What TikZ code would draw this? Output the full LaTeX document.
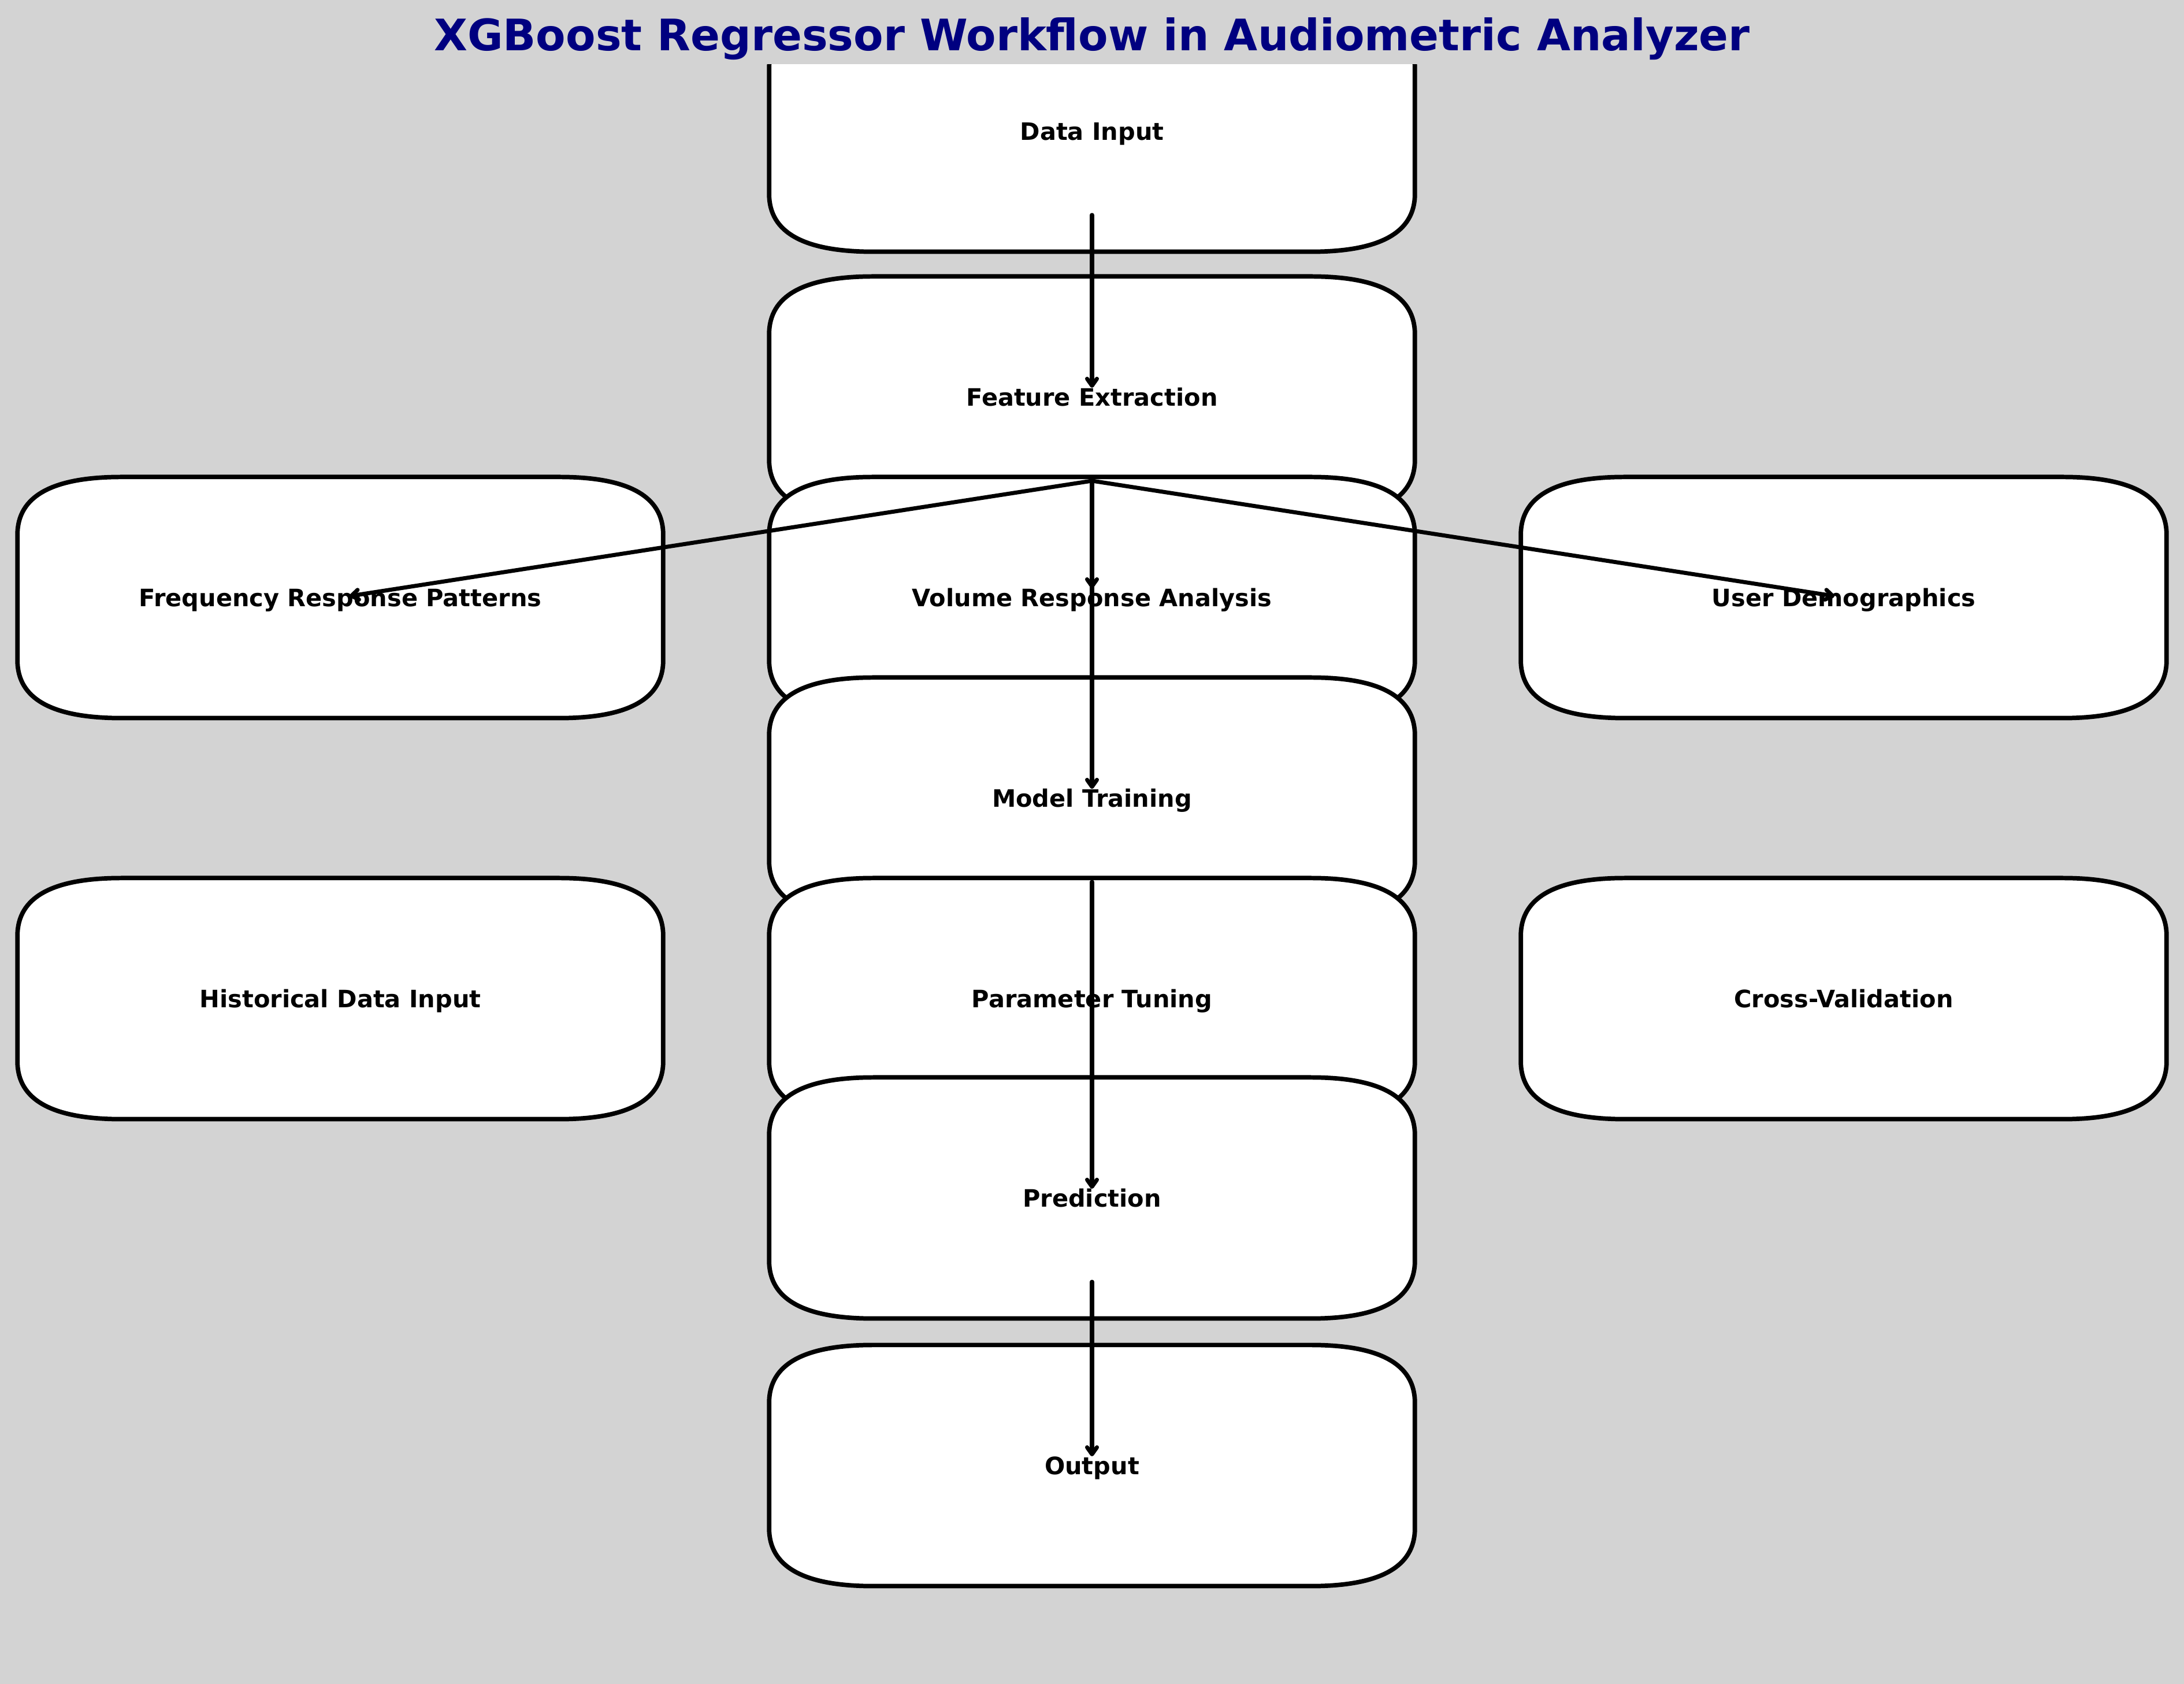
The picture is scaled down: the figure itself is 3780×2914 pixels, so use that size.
\documentclass[tikz,border=0pt]{standalone}
\usepackage{fontspec}
\setmainfont{DejaVu Sans}
\usetikzlibrary{arrows.meta,calc}
\definecolor{bggray}{RGB}{211,211,211}
\definecolor{titlenavy}{RGB}{0,0,128}
\pgfdeclarelayer{boxlayer}
\pgfsetlayers{boxlayer,main}
\tikzset{
  boxshape/.style={fill=white, draw=black, line width=2.2pt, line join=round},
  lbl/.style={shape=rectangle, inner sep=0pt, outer sep=0pt,
    minimum width=11.17cm, minimum height=4.17cm,
    text height=8.6pt, text depth=0pt,
    font=\fontsize{11.8}{14}\selectfont\bfseries},
  titlestyle/.style={anchor=base, inner sep=0pt, text=titlenavy,
    font=\fontsize{21.35}{26}\selectfont\bfseries},
  flow/.style={draw=black, line width=2pt, line cap=round,
    -{Straight Barb[length=0.12cm,width=0.17cm,round]}, shorten >=0.16cm},
}
\newcommand\rbox[1]{%
  \path[boxshape] ([xshift=1.8cm]#1.south west) -- ([xshift=-1.8cm]#1.south east)
   .. controls ([xshift=-0.6cm]#1.south east) and ([yshift=0.333cm]#1.south east) .. ([yshift=1cm]#1.south east)
   -- ([yshift=-1cm]#1.north east)
   .. controls ([yshift=-0.333cm]#1.north east) and ([xshift=-0.6cm]#1.north east) .. ([xshift=-1.8cm]#1.north east)
   -- ([xshift=1.8cm]#1.north west)
   .. controls ([xshift=0.6cm]#1.north west) and ([yshift=-0.333cm]#1.north west) .. ([yshift=-1cm]#1.north west)
   -- ([yshift=1cm]#1.south west)
   .. controls ([yshift=0.333cm]#1.south west) and ([xshift=0.6cm]#1.south west) .. ([xshift=1.8cm]#1.south west)
   -- cycle;}
\begin{document}
\begin{tikzpicture}[x=0.01cm,y=0.01cm]
\useasboundingbox (0,0) rectangle (3780,2914);
\begin{pgfonlayer}{boxlayer}
  \fill[bggray] (0,0) rectangle (3780,2914);
\end{pgfonlayer}

\node[titlestyle] (title) at (1890,2826) {XGBoost Regressor Workflow in Audiometric Analyzer};

\node[lbl] (di)   at (1890,2687) {Data Input};
\node[lbl] (fe)   at (1890,2227) {Feature Extraction};
\node[lbl] (freq) at (589,1880)  {Frequency Response Patterns};
\node[lbl] (vra)  at (1890,1880) {Volume Response Analysis};
\node[lbl] (ud)   at (3191,1880) {User Demographics};
\node[lbl] (mt)   at (1890,1533) {Model Training};
\node[lbl] (hist) at (589,1186)  {Historical Data Input};
\node[lbl] (pt)   at (1890,1186) {Parameter Tuning};
\node[lbl] (cv)   at (3191,1186) {Cross-Validation};
\node[lbl] (pred) at (1890,841)  {Prediction};
\node[lbl] (out)  at (1890,378)  {Output};

\begin{pgfonlayer}{boxlayer}
  \begin{scope}
    \clip (0,0) rectangle (3780,2802);
    \rbox{di}
  \end{scope}
  \rbox{fe}
  \rbox{freq}
  \rbox{vra}
  \rbox{ud}
  \rbox{mt}
  \rbox{hist}
  \rbox{pt}
  \rbox{cv}
  \rbox{pred}
  \rbox{out}
\end{pgfonlayer}

\draw[flow] ($(di.center)+(0,-145)$) -- (fe.center);
\draw[flow] ($(fe.center)+(0,-145)$) -- (freq.center);
\draw[flow] ($(fe.center)+(0,-145)$) -- (vra.center);
\draw[flow] ($(fe.center)+(0,-145)$) -- (ud.center);
\draw[flow] ($(fe.center)+(0,-145)$) -- (mt.center);
\draw[flow] ($(mt.center)+(0,-145)$) -- (pred.center);
\draw[flow] ($(pred.center)+(0,-145)$) -- (out.center);
\end{tikzpicture}
\end{document}
